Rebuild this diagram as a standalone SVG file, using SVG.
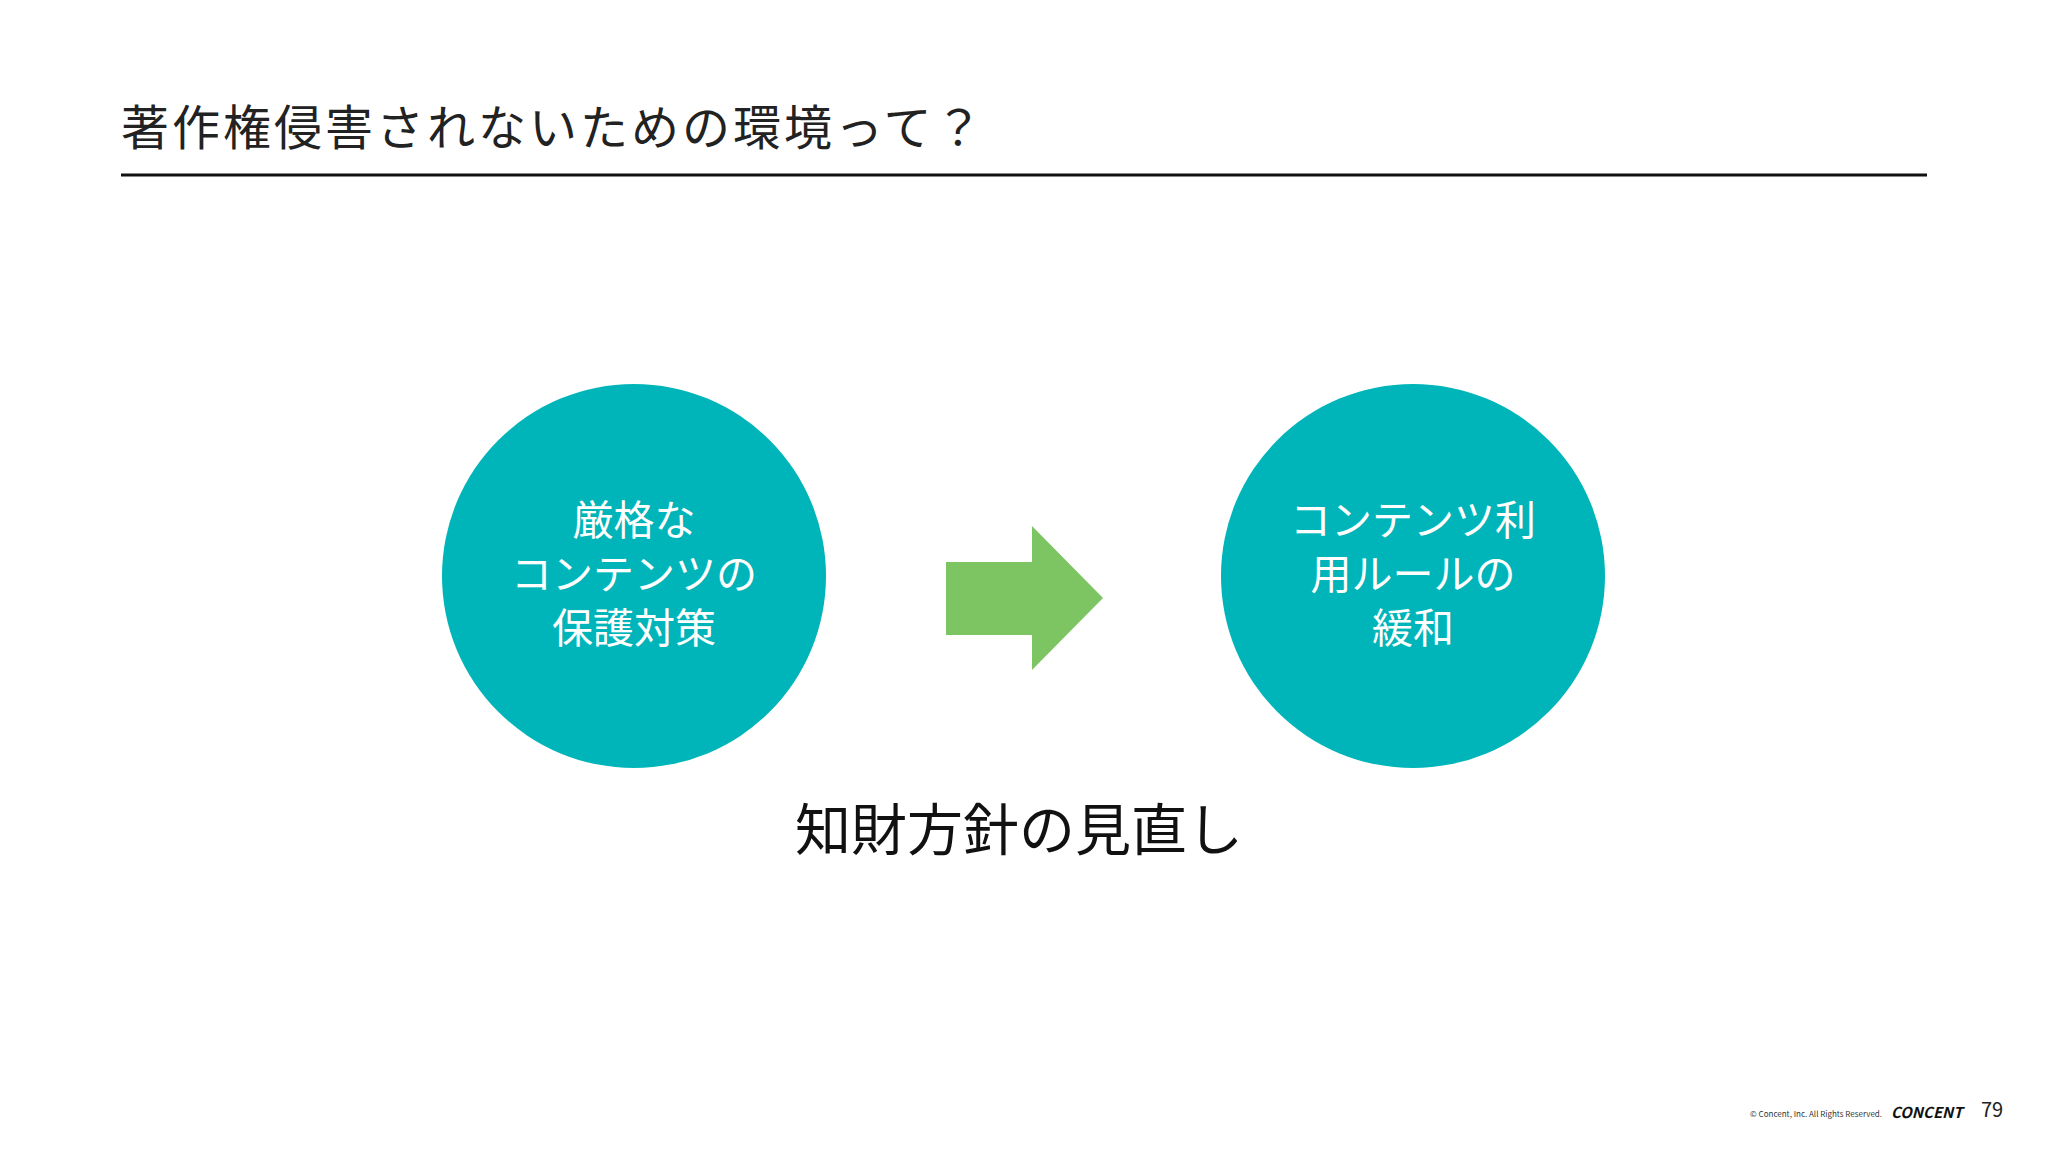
<svg xmlns="http://www.w3.org/2000/svg" width="2048" height="1152" viewBox="0 0 2048 1152">
<style>
text{font-family:"Noto Sans CJK JP","Noto Sans",sans-serif}
.c{fill:#00B5B9}
.ct{fill:#fff;font-size:41px;text-anchor:middle}
</style>
<rect width="2048" height="1152" fill="#fff"/>
<text x="121" y="145" font-size="48" letter-spacing="3" fill="#222">著作権侵害されないための環境って？</text>
<line x1="121" y1="175" x2="1927" y2="175" stroke="#111" stroke-width="3"/>
<g id="left">
<circle class="c" cx="634" cy="576" r="192"/>
<text class="ct" x="634" y="535">厳格な</text>
<text class="ct" x="634" y="589">コンテンツの</text>
<text class="ct" x="634" y="643">保護対策</text>
</g>
<g id="right">
<circle class="c" cx="1413" cy="576" r="192"/>
<text class="ct" x="1413" y="535">コンテンツ利</text>
<text class="ct" x="1413" y="589">用ルールの</text>
<text class="ct" x="1413" y="643">緩和</text>
</g>
<g id="connectors">
<polygon points="946,562 1032,562 1032,526 1103,598 1032,670 1032,635 946,635" fill="#7DC462"/>
</g>
<g id="caption">
<text x="1019" y="850" font-size="56" text-anchor="middle" fill="#111">知財方針の見直し</text>
</g>
<text x="1882" y="1117" font-size="8" text-anchor="end" fill="#333">© Concent, Inc. All Rights Reserved.</text>
<text x="1891" y="1118" font-size="15" font-weight="bold" font-style="italic" fill="#111" font-family="Liberation Sans,sans-serif">CONCENT</text>
<text x="1981" y="1117" font-size="20" fill="#222">79</text>
</svg>
